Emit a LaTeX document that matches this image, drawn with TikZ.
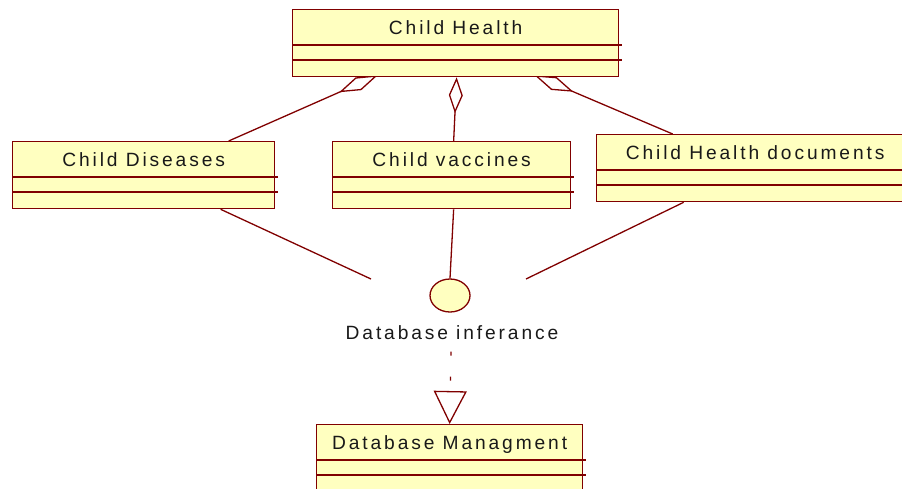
\documentclass[tikz,border=0pt]{standalone}
\usepackage{fontspec}
\setmainfont{Liberation Sans}[LetterSpace=15]
\usepackage{tikz}
\usetikzlibrary{arrows.meta,shapes.geometric,calc,backgrounds}
\definecolor{umlred}{RGB}{128,0,0}
\definecolor{umlfill}{RGB}{255,255,192}
\definecolor{umltext}{RGB}{25,25,25}
\newcommand{\umlfont}{\fontsize{19.2pt}{22pt}\selectfont}

\begin{document}
\begin{tikzpicture}[
    x=1pt, y=-1pt,
    classbox/.style={rectangle, draw=umlred, fill=umlfill, line width=1.3pt, minimum height=67pt, anchor=north west, inner sep=0pt},
    classname/.style={anchor=base, font=\umlfont, text=umltext, inner sep=0pt},
    sep/.style={draw=umlred, line width=1.3pt},
    link/.style={draw=umlred, line width=1.3pt},
    aggr/.style={link, -{Diamond[open, length=#1, width=14pt]}},
    aggr/.default=36pt,
    realize/.style={link, dash pattern=on 4pt off 21pt, -{Triangle[open, length=33pt, width=33pt]}},
    iface/.style={ellipse, draw=umlred, fill=umlfill, line width=1.3pt, minimum width=40pt, minimum height=33pt, inner sep=0pt}
]
\useasboundingbox (0,0) rectangle (902,488);

% Classes
\node[classbox, minimum width=326pt] (ch) at (292,9) {};
\node[classbox, minimum width=262pt] (cd) at (12,141) {};
\node[classbox, minimum width=238pt] (cv) at (332,141) {};
\node[classbox, minimum width=317pt] (cdoc) at (596,134) {};
\node[classbox, minimum width=266pt] (dbm) at (316,424) {};

% Class names
\node[classname] (ch-t) at ($(ch.north)+(0,25.5)$) {Child Health};
\node[classname] (cd-t) at ($(cd.north)+(0,25)$) {Child Diseases};
\node[classname] (cv-t) at ($(cv.north)+(0,25)$) {Child vaccines};
\node[classname] (cdoc-t) at ($(cdoc.north)+(0,25)$) {Child Health documents};
\node[classname] (dbm-t) at ($(dbm.north)+(0,25)$) {Database Managment};

% Compartments
\foreach \n in {ch,cd,cv,cdoc,dbm} {
  \draw[sep] ($(\n.north west)+(0,36)$) -- ($(\n.north east)+(3,36)$);
  \draw[sep] ($(\n.north west)+(0,51)$) -- ($(\n.north east)+(3,51)$);
}

% Interface
\node[iface] (inf) at (450,295.5) {};
\node[classname] (inf-l) at ($(inf.south)+(2,27)$) {Database inferance};

\begin{scope}[on background layer]
% Aggregations
\draw[aggr=42pt] ($(cd.north)+(85,0)$) -- ($(ch.south)+(-78,-2)$);
\draw[aggr] ($(cv.north)+(2,0)$) -- ($(ch.south)+(1,0)$);
\draw[aggr=42pt] ($(cdoc.north)+(-82.5,0)$) -- ($(ch.south)+(79,-2)$);

% Interface links
\draw[link] ($(cd.south)+(77,0)$) -- ($(inf)+(-79,-16.5)$);
\draw[link] ($(cv.south)+(2,0)$) -- (inf.north);
\draw[link] ($(cdoc.south)+(-71.5,0)$) -- ($(inf)+(76,-16.5)$);
\end{scope}

% Realization
\draw[realize] ($(inf-l.base)+(-1,12)$) -- (dbm.north);

\end{tikzpicture}
\end{document}
